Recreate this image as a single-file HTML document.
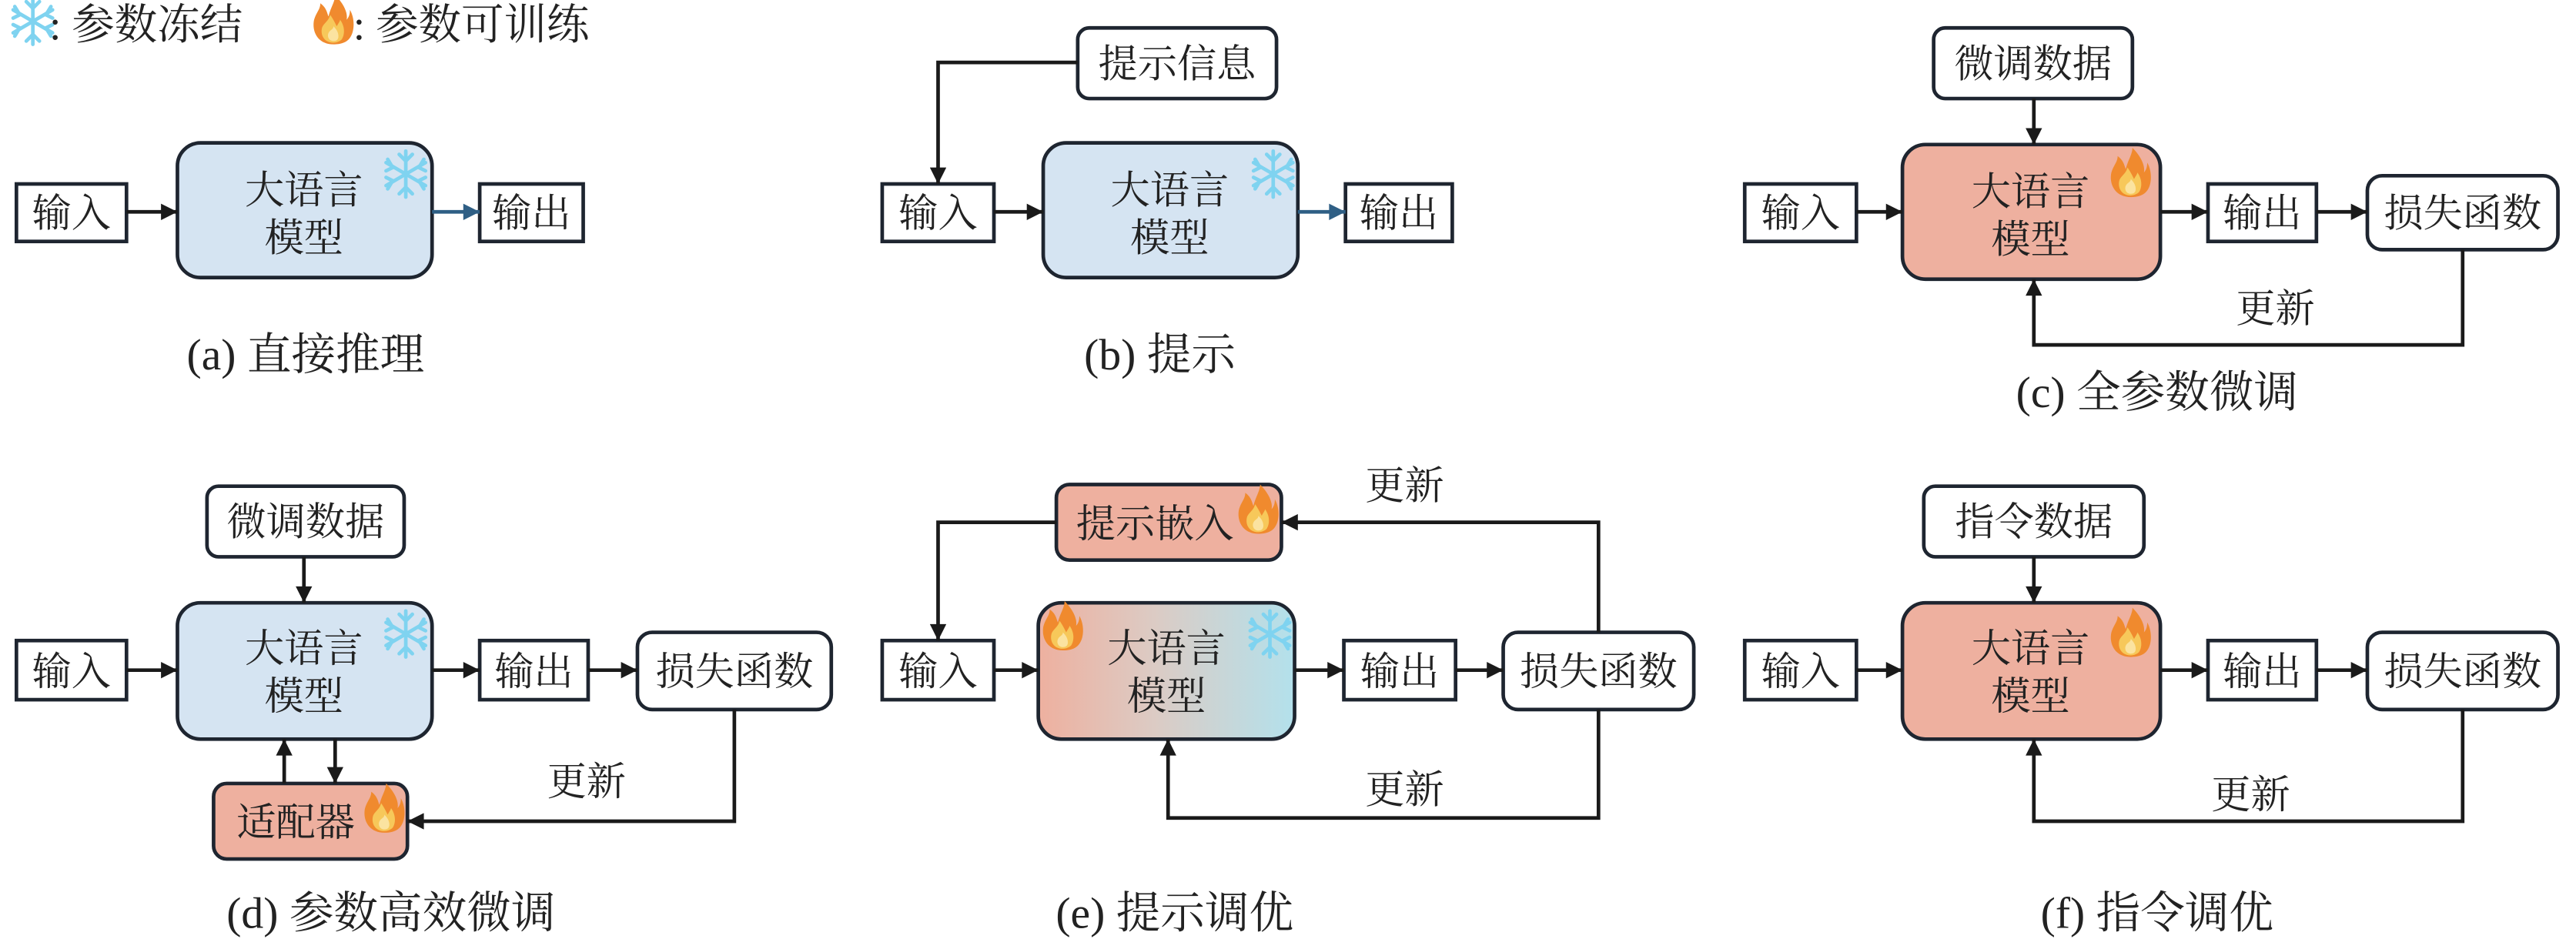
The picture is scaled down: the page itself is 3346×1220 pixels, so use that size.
<!DOCTYPE html>
<html><head><meta charset="utf-8"><style>
html,body{margin:0;padding:0;background:#fff;}
svg{display:block;}
text{font-family:"Liberation Serif","Noto Serif CJK SC",serif;fill:#222;}
.bx{font-size:24px;}
.cap{font-size:27px;}
</style></head><body>
<svg width="3346" height="1220" viewBox="0 0 1568 571.7" preserveAspectRatio="none" xmlns="http://www.w3.org/2000/svg">
<defs>
<marker id="a" viewBox="0 0 10 10" refX="10" refY="5" markerWidth="12" markerHeight="10" orient="auto-start-reverse" markerUnits="userSpaceOnUse"><path d="M0,0L10,5L0,10z" fill="#1a1a1a"/></marker>
<marker id="ab" viewBox="0 0 10 10" refX="10" refY="5" markerWidth="12" markerHeight="10" orient="auto" markerUnits="userSpaceOnUse"><path d="M0,0L10,5L0,10z" fill="#2f5f85"/></marker>
<g id="snow" stroke="#7fd3f0" stroke-width="2.2" fill="none" stroke-linecap="round">
<line x1="0" y1="-14" x2="0" y2="14"/><line x1="-12" y1="-7" x2="12" y2="7"/><line x1="-12" y1="7" x2="12" y2="-7"/>
<path d="M-4,-12L0,-8L4,-12M-4,12L0,8L4,12M-12,-2L-8,-4L-11,-9M12,2L8,4L11,9M-12,2L-8,4L-11,9M12,-2L8,-4L11,-9"/>
</g>
<g id="fire">
<path d="M0,14C-9,14 -13,7 -12,0C-11,-5 -8,-7 -8,-11C-4,-8 -4,-5 -3,-3C-2,-8 1,-12 1,-16C5,-12 9,-6 8,-1C10,-3 10,-6 10,-7C13,-2 13,6 10,10C8,13 4,14 0,14Z" fill="#f08a2e"/>
<path d="M0,13C-6,13 -8,8 -7,4C-6,1 -3,0 -2,-4C0,-1 1,1 2,3C3,1 4,0 4,-1C7,3 7,8 5,11C4,12 2,13 0,13Z" fill="#f7c85a"/>
<path d="M0,12C-3,12 -4,9 -3,7C-2,5 0,5 0,3C2,5 3,7 3,9C3,11 2,12 0,12Z" fill="#fbe3a0"/>
</g>
<linearGradient id="g" x1="0" x2="1" y1="0" y2="0"><stop offset="0" stop-color="#eeb09f"/><stop offset="0.45" stop-color="#dccbc4"/><stop offset="1" stop-color="#b3e1ec"/></linearGradient>
</defs>

<!-- legend -->
<use href="#snow" x="20" y="13"/>
<text x="30" y="24" style="font-size:26px">: 参数冻结</text>
<use href="#fire" x="203" y="13"/>
<text x="215" y="24" style="font-size:26px">: 参数可训练</text>

<g stroke="#1e2530" stroke-width="2.2" fill="#fff">
<rect x="10" y="112" width="67" height="35"/>
<rect x="108" y="87" width="155" height="82" rx="14" fill="#d5e4f2"/>
<rect x="292" y="112" width="63" height="35"/>
<rect x="656" y="17" width="121" height="43" rx="7"/>
<rect x="537" y="112" width="68" height="35"/>
<rect x="635" y="87" width="155" height="82" rx="14" fill="#d5e4f2"/>
<rect x="819" y="112" width="65" height="35"/>
<rect x="1177" y="17" width="121" height="43" rx="7"/>
<rect x="1062" y="112" width="68" height="35"/>
<rect x="1158" y="88" width="157" height="82" rx="14" fill="#eeb09f"/>
<rect x="1344" y="112" width="66" height="35"/>
<rect x="1441" y="107" width="116" height="45" rx="9"/>
<rect x="126" y="296" width="120" height="43" rx="7"/>
<rect x="10" y="390" width="67" height="36"/>
<rect x="108" y="367" width="155" height="83" rx="14" fill="#d5e4f2"/>
<rect x="292" y="390" width="66" height="36"/>
<rect x="388" y="385" width="118" height="47" rx="9"/>
<rect x="130" y="477" width="118" height="46" rx="8" fill="#eeb09f"/>
<rect x="643" y="295" width="137" height="46" rx="8" fill="#eeb09f"/>
<rect x="537" y="390" width="68" height="36"/>
<rect x="632" y="367" width="156" height="83" rx="14" fill="url(#g)"/>
<rect x="818" y="390" width="68" height="36"/>
<rect x="915" y="385" width="116" height="47" rx="9"/>
<rect x="1171" y="296" width="134" height="43" rx="7"/>
<rect x="1062" y="390" width="68" height="36"/>
<rect x="1158" y="367" width="157" height="83" rx="14" fill="#eeb09f"/>
<rect x="1344" y="390" width="66" height="36"/>
<rect x="1441" y="385" width="116" height="47" rx="9"/>
</g>

<g stroke="#1a1a1a" stroke-width="2.2" fill="none" marker-end="url(#a)">
<line x1="77" y1="129" x2="108" y2="129"/>
<polyline points="656,38 571,38 571,112"/>
<line x1="605" y1="129" x2="635" y2="129"/>
<line x1="1238" y1="60" x2="1238" y2="88"/>
<line x1="1130" y1="129" x2="1158" y2="129"/>
<line x1="1315" y1="129" x2="1344" y2="129"/>
<line x1="1410" y1="129" x2="1441" y2="129"/>
<polyline points="1499,152 1499,210 1238,210 1238,170"/>
<line x1="185" y1="339" x2="185" y2="367"/>
<line x1="77" y1="408" x2="108" y2="408"/>
<line x1="263" y1="408" x2="292" y2="408"/>
<line x1="358" y1="408" x2="388" y2="408"/>
<polyline points="447,432 447,500 248,500"/>
<line x1="173" y1="477" x2="173" y2="450"/>
<line x1="204" y1="450" x2="204" y2="477"/>
<polyline points="643,318 571,318 571,390"/>
<line x1="605" y1="408" x2="632" y2="408"/>
<line x1="788" y1="408" x2="818" y2="408"/>
<line x1="886" y1="408" x2="915" y2="408"/>
<polyline points="973,385 973,318 780,318"/>
<polyline points="973,432 973,498 711,498 711,450"/>
<line x1="1238" y1="339" x2="1238" y2="367"/>
<line x1="1130" y1="408" x2="1158" y2="408"/>
<line x1="1315" y1="408" x2="1344" y2="408"/>
<line x1="1410" y1="408" x2="1441" y2="408"/>
<polyline points="1499,432 1499,500 1238,500 1238,450"/>
</g>
<g stroke="#2f5f85" stroke-width="2.2" marker-end="url(#ab)">
<line x1="263" y1="129" x2="292" y2="129"/>
<line x1="790" y1="129" x2="819" y2="129"/>
</g>

<use href="#snow" x="247" y="106"/>
<use href="#snow" x="775" y="106"/>
<use href="#fire" x="1297" y="106"/>
<use href="#snow" x="247" y="386"/>
<use href="#fire" x="234" y="493"/>
<use href="#fire" x="766" y="311"/>
<use href="#fire" x="647" y="382"/>
<use href="#snow" x="773" y="386"/>
<use href="#fire" x="1297" y="386"/>

<g class="bx" text-anchor="middle">
<text x="43.5" y="138">输入</text>
<text x="185" y="124">大语言</text><text x="185" y="153">模型</text>
<text x="323.5" y="138">输出</text>

<text x="716.5" y="47">提示信息</text>
<text x="571" y="138">输入</text>
<text x="712" y="124">大语言</text><text x="712" y="153">模型</text>
<text x="851.5" y="138">输出</text>

<text x="1237.5" y="47">微调数据</text>
<text x="1096" y="138">输入</text>
<text x="1236" y="125">大语言</text><text x="1236" y="154">模型</text>
<text x="1377" y="138">输出</text>
<text x="1499" y="138">损失函数</text>
<text x="1385" y="196">更新</text>

<text x="186" y="326">微调数据</text>
<text x="43.5" y="417">输入</text>
<text x="185" y="403">大语言</text><text x="185" y="432">模型</text>
<text x="325" y="417">输出</text>
<text x="447" y="417">损失函数</text>
<text x="357" y="484">更新</text>
<text x="180" y="509">适配器</text>

<text x="703" y="327">提示嵌入</text>
<text x="855" y="304">更新</text>
<text x="571" y="417">输入</text>
<text x="710" y="403">大语言</text><text x="710" y="432">模型</text>
<text x="852" y="417">输出</text>
<text x="973" y="417">损失函数</text>
<text x="855" y="489">更新</text>

<text x="1238" y="326">指令数据</text>
<text x="1096" y="417">输入</text>
<text x="1236" y="403">大语言</text><text x="1236" y="432">模型</text>
<text x="1377" y="417">输出</text>
<text x="1499" y="417">损失函数</text>
<text x="1370" y="492">更新</text>
</g>

<g class="cap" text-anchor="middle">
<text x="186" y="225">(a) 直接推理</text>
<text x="706" y="225">(b) 提示</text>
<text x="1313" y="248">(c) 全参数微调</text>
<text x="238" y="565">(d) 参数高效微调</text>
<text x="715" y="565">(e) 提示调优</text>
<text x="1313" y="565">(f) 指令调优</text>
</g>
</svg>
</body></html>
